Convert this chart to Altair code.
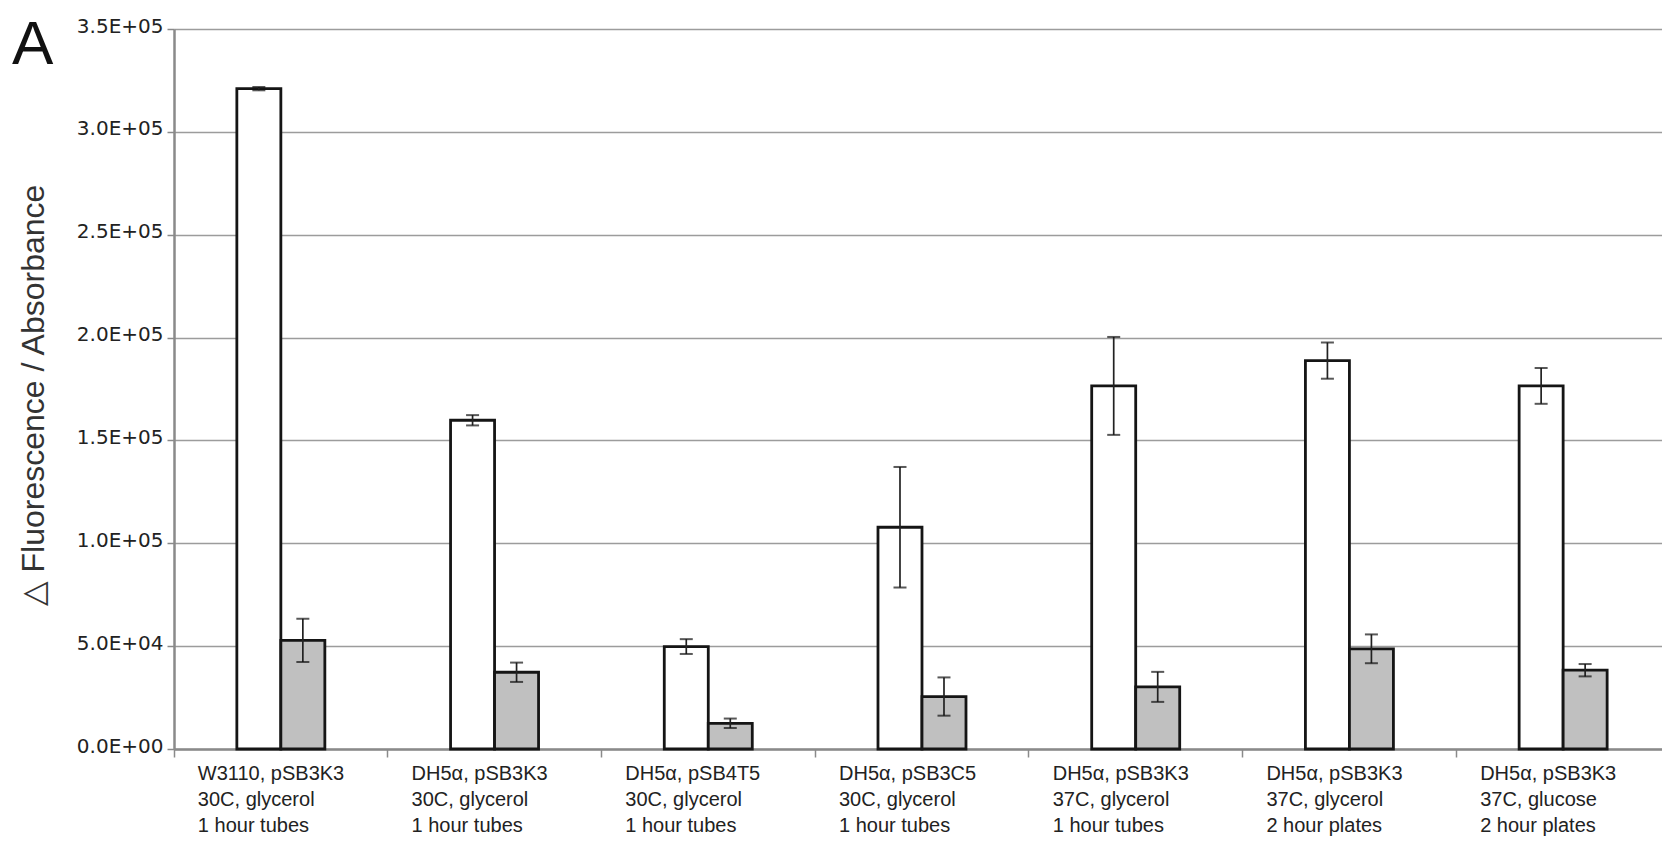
import altair as alt
import pandas as pd

# categories (multi-line labels separated by "|")
groups = [
    "W3110, pSB3K3|30C, glycerol|1 hour tubes",
    "DH5α, pSB3K3|30C, glycerol|1 hour tubes",
    "DH5α, pSB4T5|30C, glycerol|1 hour tubes",
    "DH5α, pSB3C5|30C, glycerol|1 hour tubes",
    "DH5α, pSB3K3|37C, glycerol|1 hour tubes",
    "DH5α, pSB3K3|37C, glycerol|2 hour plates",
    "DH5α, pSB3K3|37C, glucose|\u00a02 hour plates",
]
series = ["white", "gray"]

white_means = [321000, 159800, 49800, 107800, 176500, 188800, 176500]
white_errs = [800, 2500, 3600, 29300, 23800, 8800, 8700]
gray_means = [52800, 37300, 12500, 25500, 30200, 48700, 38300]
gray_errs = [10500, 4700, 2300, 9300, 7300, 7000, 3000]

y_ticks = [0, 50000, 100000, 150000, 200000, 250000, 300000, 350000]

rows = []
for g, m, e in zip(groups, white_means, white_errs):
    rows.append({"group": g, "series": "white", "mean": m, "lo": m - e, "hi": m + e})
for g, m, e in zip(groups, gray_means, gray_errs):
    rows.append({"group": g, "series": "gray", "mean": m, "lo": m - e, "hi": m + e})
df = pd.DataFrame(rows)

x_enc = alt.X(
    "group:N",
    sort=groups,
    scale=alt.Scale(range=[0, 1496], paddingInner=0, paddingOuter=0),
    axis=alt.Axis(
        title=None,
        labelExpr="split(datum.label, '|')",
        labelAlign="left",
        labelAngle=0,
        labelOffset=-83,
        labelFont="Liberation Sans",
        labelFontSize=20,
        labelColor="#222222",
        labelLineHeight=26,
        labelBaseline="top",
        labelPadding=6,
        labelOverlap=False,
        tickSize=8,
        tickColor="#8a8a8a",
        tickWidth=1.5,
        bandPosition=0,
        domainColor="#8a8a8a",
        domainWidth=2.5,
        grid=False,
    ),
)
xoff_enc = alt.XOffset(
    "series:N",
    sort=series,
    scale=alt.Scale(range=[62.85, 150.85], paddingInner=0, paddingOuter=0),
)
y_scale = alt.Scale(domain=[0, 350000], nice=False)

base = alt.Chart(df)

bars = base.mark_bar(stroke="#151515", strokeWidth=2.8).encode(
    x=x_enc,
    xOffset=xoff_enc,
    y=alt.Y(
        "mean:Q",
        scale=y_scale,
        axis=alt.Axis(
            values=y_ticks,
            labelExpr="replace(format(datum.value, '.1e'), 'e+', 'E+0')",
            labelFont="DejaVu Sans",
            labelFontSize=20,
            labelColor="#222222",
            labelPadding=4,
            labelOffset=-3,
            tickSize=7,
            tickColor="#8a8a8a",
            tickWidth=1.5,
            domainColor="#8a8a8a",
            domainWidth=2.5,
            gridColor="#9c9c9c",
            gridWidth=1.7,
            title="△ Fluorescence / Absorbance",
            titleFont="Liberation Sans",
            titleFontSize=32,
            titleFontWeight="normal",
            titleColor="#333333",
            titleX=-124,
            titleY=366,
        ),
    ),
    fill=alt.Fill(
        "series:N",
        scale=alt.Scale(domain=series, range=["#ffffff", "#c0c0c0"]),
        legend=None,
    ),
)

err = base.mark_rule(color="#222222", strokeWidth=1.7).encode(
    x=alt.X("group:N", sort=groups),
    xOffset=xoff_enc,
    y=alt.Y("lo:Q", scale=y_scale),
    y2="hi:Q",
)
cap_hi = base.mark_tick(color="#111111", thickness=2, size=13).encode(
    x=alt.X("group:N", sort=groups),
    xOffset=xoff_enc,
    y=alt.Y("hi:Q", scale=y_scale),
)
cap_lo = base.mark_tick(color="#111111", thickness=2, size=13).encode(
    x=alt.X("group:N", sort=groups),
    xOffset=xoff_enc,
    y=alt.Y("lo:Q", scale=y_scale),
)

panel_letter = alt.Chart(pd.DataFrame({"t": ["A"]})).mark_text(
    font="Liberation Sans", fontSize=62, color="#111111", align="left", baseline="alphabetic"
).encode(text="t:N", x=alt.value(-162), y=alt.value(35))

chart = (
    alt.layer(bars, err, cap_hi, cap_lo, panel_letter)
    .properties(
        width=1488,
        height=720,
        autosize=alt.AutoSizeParams(type="none"),
        padding={"left": 166, "top": 21, "right": 0, "bottom": 91},
    )
    .configure_view(stroke=None)
    .configure(background="white")
)

chart.save("out.html", embed_options={"renderer": "svg", "actions": False})
